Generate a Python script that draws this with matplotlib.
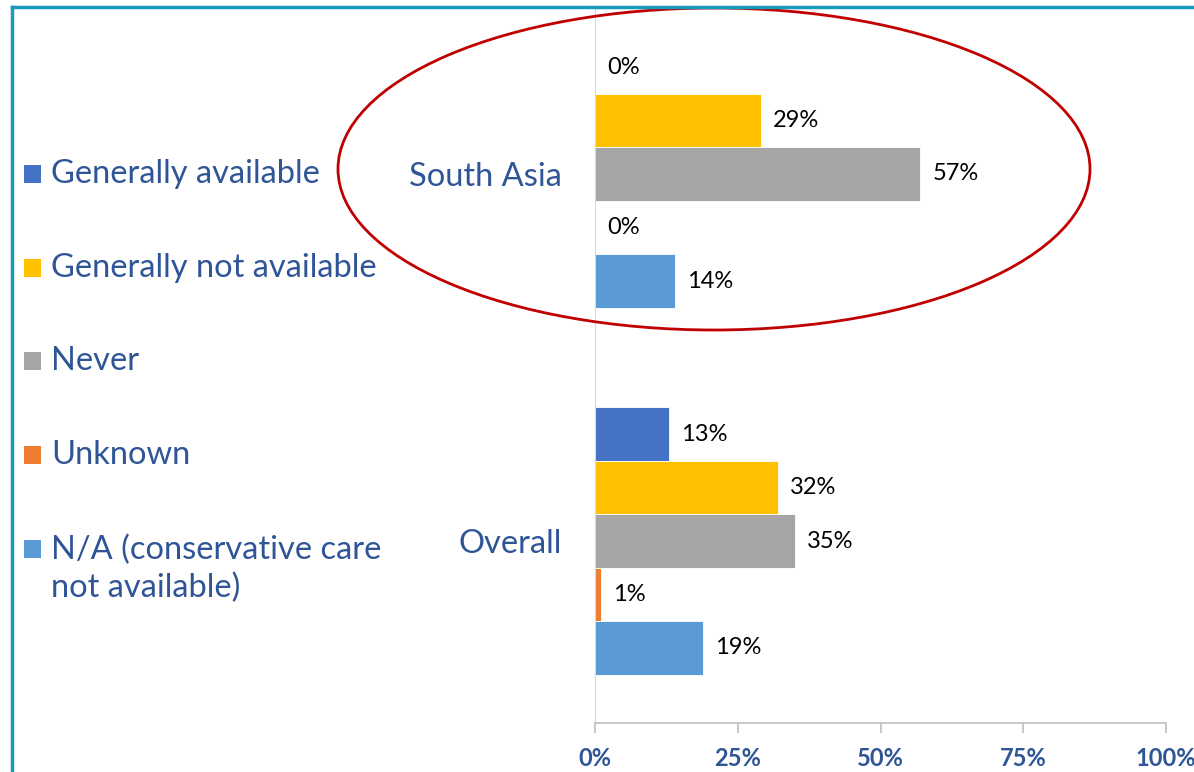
import matplotlib.pyplot as plt
from matplotlib.patches import Ellipse, Rectangle
from matplotlib.lines import Line2D

# data
regions = ["Overall", "South Asia"]
series = ["Generally available", "Generally not available", "Never", "Unknown",
          "N/A (conservative care\nnot available)"]
colors = ["#4472C4", "#FFC000", "#A5A5A5", "#ED7D31", "#5B9BD5"]
overall = [13, 32, 35, 1, 19]
south_asia = [0, 29, 57, 0, 14]
xticks = [0, 25, 50, 75, 100]
xticklabels = ["0%", "25%", "50%", "75%", "100%"]

plt.rcParams['font.family'] = ['Lato', 'DejaVu Sans']
txt_blue = "#2F5597"

W, H = 1194, 772
fig = plt.figure(figsize=(W / 100, H / 100), dpi=100)
ax = fig.add_axes([595 / W, 1 - 723 / H, (1166 - 595) / W, (723 - 8) / H])

h = 53.5 / 367
for i, name in enumerate(series):
    vals = [overall[i], south_asia[i]]
    ys = [r + (2 - i) * h for r in range(len(regions))]
    ax.barh(ys, vals, height=h, color=colors[i], edgecolor='white', linewidth=0.6)
    for y, v in zip(ys, vals):
        ax.text(v + 2.1, y, f"{v}%", va='center', ha='left', fontsize=17, color='black')

ax.set_xlim(0, 100)
ax.set_ylim(-(723 - 541) / 367, 1 + (174 - 8) / 367)
ax.set_xticks(xticks)
ax.set_xticklabels(xticklabels, fontsize=17, color=txt_blue, fontweight='bold')
ax.set_yticks(range(len(regions)))
ax.set_yticklabels(regions, fontsize=23.5, color=txt_blue)
ax.tick_params(axis='y', length=0, pad=24)
ax.tick_params(axis='x', length=7, width=1.2, color='#BFBFBF', pad=10)
for s in ['top', 'right']:
    ax.spines[s].set_visible(False)
ax.spines['left'].set_color('#D9D9D9')
ax.spines['bottom'].set_color('#BFBFBF')
ax.spines['bottom'].set_linewidth(1.2)

# legend on the left
for i, name in enumerate(series):
    yc = 174 + 93.7 * i
    fig.add_artist(Rectangle((24 / W, 1 - (yc + 9) / H), 17 / W, 18 / H,
                             transform=fig.transFigure, color=colors[i], lw=0))
    nl = name.count("\n")
    fig.text(51 / W, 1 - (yc + 20.5 * nl) / H, name, fontsize=23.5, color=txt_blue,
             va='center', ha='left', linespacing=1.3)

# red ellipse around South Asia
fig.add_artist(Ellipse((714 / W, 1 - 169 / H), 752 / W, 322 / H, transform=fig.transFigure,
                       fill=False, edgecolor='#C00000', lw=2))

# frame
fig.add_artist(Line2D([12 / W, 1], [1 - 7 / H, 1 - 7 / H], transform=fig.transFigure,
                      color='#1A9BBC', lw=2.5))
fig.add_artist(Line2D([12 / W, 12 / W], [0, 1 - 7 / H], transform=fig.transFigure,
                      color='#1A9BBC', lw=2.5))

fig.savefig("out.png", dpi=100)
